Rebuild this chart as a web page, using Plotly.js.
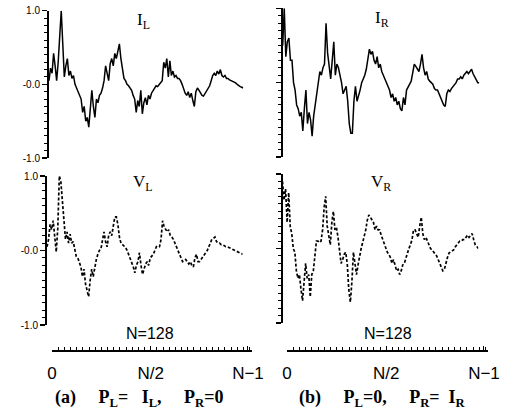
<!DOCTYPE html>
<html>
<head>
<meta charset="utf-8">
<script src="https://cdn.plot.ly/plotly-3.0.1.min.js"></script>
<style>html,body{margin:0;padding:0;background:#fff;}#plot{width:519px;height:412px;}</style>
</head>
<body>
<div id="plot"></div>
<script>
// Sample index n = 0 .. N-1 (N = 128)
const N = 128;
const sampleIndex = Array.from({length: N}, (_, i) => i);

// I_L : current, left excitation (case a)
const iL = [0.05,0.22,0.15,0.42,0.25,0.05,0.3,0.6,1.0,0.55,
0.1,0.25,0.35,0.12,0.18,0.08,0.12,0.0,-0.05,-0.12,
-0.15,-0.2,-0.38,-0.3,-0.5,-0.45,-0.58,-0.35,-0.08,-0.3,
-0.45,-0.2,-0.25,-0.15,-0.12,-0.05,0.05,0.25,0.15,0.05,
0.28,0.35,0.25,0.42,0.35,0.48,0.55,0.35,0.2,0.08,
0.05,0.0,-0.02,-0.05,-0.08,-0.15,-0.2,-0.38,-0.22,-0.3,
-0.08,-0.4,-0.25,-0.18,-0.28,-0.15,-0.2,-0.12,-0.08,-0.05,
-0.02,-0.03,0.0,0.02,0.05,0.3,0.22,0.35,0.1,0.32,
0.12,0.18,0.1,0.12,0.08,0.08,0.05,0.0,-0.08,-0.12,
-0.15,-0.1,-0.18,-0.12,-0.22,-0.3,-0.1,-0.05,-0.08,-0.12,
-0.15,-0.16,-0.12,-0.1,-0.05,-0.02,0.05,0.12,0.15,0.12,
0.18,0.14,0.2,0.12,0.1,0.12,0.08,0.08,0.06,0.05,
0.05,0.03,0.02,0.0,-0.02,-0.03,-0.04,-0.05];

// I_R : current, right excitation (case b)
const iR = [0.5,1.0,0.35,0.55,0.6,0.3,0.3,0.0,-0.1,-0.3,
-0.35,-0.45,-0.4,-0.65,-0.35,-0.1,-0.55,-0.4,-0.5,-0.72,
-0.45,-0.3,-0.1,0.05,0.15,0.1,0.2,0.25,0.8,0.4,
0.2,0.05,0.3,0.55,0.1,0.25,0.2,0.12,0.0,-0.15,
-0.1,-0.05,-0.25,-0.55,-0.68,-0.68,-0.25,-0.05,-0.25,-0.18,
-0.1,0.0,0.05,0.1,0.18,0.32,0.45,0.38,0.42,0.3,
0.25,0.35,0.2,0.25,0.15,0.1,0.05,0.0,-0.05,-0.1,
-0.2,-0.15,-0.25,-0.2,-0.3,-0.25,-0.35,-0.38,-0.2,-0.3,
-0.1,-0.05,-0.02,0.02,0.15,0.25,0.22,0.18,0.15,0.25,
0.38,0.2,0.1,0.15,0.05,0.02,0.0,-0.02,-0.08,-0.1,
-0.1,-0.15,-0.18,-0.25,-0.3,-0.32,-0.15,-0.1,-0.12,-0.08,
-0.05,-0.03,0.0,0.05,0.05,0.08,0.05,0.1,0.12,0.15,
0.12,0.15,0.18,0.12,0.08,0.02,0.0,0.0];

// V_L : voltage, left excitation (case a)
const vL = [0.05,0.15,0.35,0.28,0.4,0.2,-0.02,0.3,1.0,0.92,
0.65,0.35,0.15,0.25,0.1,0.22,0.1,0.12,0.0,-0.08,
-0.1,-0.15,-0.22,-0.35,-0.25,-0.45,-0.55,-0.62,-0.4,-0.25,
-0.35,-0.2,-0.12,-0.05,0.0,0.02,0.15,0.25,0.12,0.05,
0.2,0.25,0.2,0.35,0.45,0.45,0.35,0.18,0.1,0.08,
0.06,0.04,0.0,-0.05,-0.1,-0.15,-0.22,-0.3,-0.2,-0.15,
-0.03,-0.2,-0.32,-0.25,-0.18,-0.15,-0.2,-0.1,-0.08,-0.05,
0.0,0.05,0.04,0.05,0.15,0.4,0.32,0.28,0.25,0.28,
0.2,0.18,0.15,0.1,0.05,0.02,-0.05,-0.1,-0.15,-0.14,
-0.12,-0.15,-0.18,-0.15,-0.2,-0.22,-0.1,-0.05,-0.15,-0.15,
-0.12,-0.1,-0.06,-0.04,0.0,0.05,0.1,0.15,0.16,0.18,
0.12,0.1,0.1,0.08,0.08,0.06,0.05,0.05,0.04,0.03,
0.02,0.01,0.0,-0.01,-0.02,-0.03,-0.04,-0.05];

// V_R : voltage, right excitation (case b)
const vR = [0.9,0.65,0.8,0.35,0.75,0.3,0.2,0.0,-0.05,-0.3,
-0.4,-0.35,-0.55,-0.7,-0.45,-0.2,-0.4,-0.35,-0.65,-0.35,
-0.3,-0.05,0.1,0.1,0.08,0.1,0.25,0.55,0.7,0.3,
0.15,0.05,0.35,0.5,0.25,0.28,0.15,-0.05,-0.2,-0.15,
-0.08,-0.05,-0.2,-0.55,-0.72,-0.45,-0.05,-0.2,-0.35,-0.22,
-0.08,0.0,0.08,0.15,0.25,0.38,0.45,0.42,0.38,0.35,
0.25,0.3,0.25,0.25,0.18,0.12,0.08,0.0,-0.05,-0.08,
-0.12,-0.2,-0.15,-0.22,-0.3,-0.28,-0.35,-0.3,-0.22,-0.2,
-0.12,-0.05,0.0,0.05,0.12,0.25,0.25,0.2,0.15,0.3,
0.42,0.2,0.12,0.15,0.1,0.03,0.0,-0.02,-0.05,-0.08,
-0.1,-0.15,-0.2,-0.25,-0.3,-0.28,-0.18,-0.12,-0.06,-0.05,
-0.03,-0.02,0.02,0.05,0.08,0.1,0.1,0.12,0.12,0.15,
0.18,0.15,0.18,0.2,0.12,0.05,0.03,0.0];

// Tick labels
const yTickVals = [-1, 0, 1];
const yTickText = ['-1.0', '-0.0', '1.0'];
const xTickVals = [0, 64, 127];
const xTickText = ['0', 'N/2', 'N\u22121'];

// ---- layout helpers (pixel -> paper) ----
const W = 519, H = 412;
const dx = (a, b) => [a / W, b / W];
const dy = (top, bottom) => [1 - bottom / H, 1 - top / H];

function panelY(domain, anchor, labels) {
  return {
    domain: domain, anchor: anchor, range: [-1, 1],
    showline: true, linecolor: '#000', linewidth: 2,
    ticks: 'outside', ticklen: 5, tickwidth: 1.3, tickcolor: '#000',
    tickmode: 'array', tickvals: yTickVals, ticktext: yTickText,
    showticklabels: labels,
    tickfont: {family: 'Liberation Sans, Arial', size: 10, color: '#000'},
    minor: {tickmode: 'linear', tick0: -1, dtick: 0.1, ticks: 'outside', ticklen: 3, tickwidth: 1, tickcolor: '#000', showgrid: false},
    showgrid: false, zeroline: false, fixedrange: true
  };
}
function panelX(domain, anchor) {
  return {domain: domain, anchor: anchor, range: [0, N - 1], visible: false, fixedrange: true};
}
function bottomX(domain, anchor, maxv) {
  return {
    domain: domain, anchor: anchor, range: [0, maxv],
    showline: true, linecolor: '#000', linewidth: 2,
    ticks: 'inside', ticklen: 4, tickwidth: 1, tickcolor: '#000',
    tickmode: 'array', tickvals: xTickVals, ticktext: xTickText,
    ticklabelstandoff: 7,
    tickfont: {family: 'Liberation Sans, Arial', size: 17, color: '#000'},
    minor: {tickmode: 'linear', tick0: 0, dtick: 4, ticks: 'inside', ticklen: 3, tickwidth: 1, tickcolor: '#000', showgrid: false},
    showgrid: false, zeroline: false, fixedrange: true
  };
}

const solid = {color: '#000', width: 1.5};
const dotted = {color: '#000', width: 1.7, dash: '3px,2px'};

const traces = [
  {x: sampleIndex, y: iL, xaxis: 'x', yaxis: 'y', mode: 'lines', line: solid, hoverinfo: 'skip'},
  {x: sampleIndex, y: iR, xaxis: 'x2', yaxis: 'y2', mode: 'lines', line: solid, hoverinfo: 'skip'},
  {x: sampleIndex, y: vL, xaxis: 'x3', yaxis: 'y3', mode: 'lines', line: dotted, hoverinfo: 'skip'},
  {x: sampleIndex, y: vR, xaxis: 'x4', yaxis: 'y4', mode: 'lines', line: dotted, hoverinfo: 'skip'},
  // empty traces so the shared sample-index axes are drawn
  {x: [], y: [], xaxis: 'x5', yaxis: 'y5', mode: 'lines', hoverinfo: 'skip'},
  {x: [], y: [], xaxis: 'x6', yaxis: 'y6', mode: 'lines', hoverinfo: 'skip'}
];

const serif = {family: 'Liberation Serif, Times New Roman, serif', size: 17, color: '#000'};
const sans = {family: 'Liberation Sans, Arial', size: 16, color: '#000'};
const capFont = {family: 'Liberation Serif, Times New Roman, serif', size: 18, color: '#000', weight: 'bold'};

function ann(text, px, py, font) {
  return {text: text, x: px / W, y: 1 - py / H, xref: 'paper', yref: 'paper',
          xanchor: 'center', yanchor: 'middle', showarrow: false, font: font};
}

const sp = '&nbsp;&nbsp;&nbsp;&nbsp;&nbsp;';
const layout = {
  width: W, height: H,
  margin: {l: 0, r: 0, t: 0, b: 0},
  paper_bgcolor: '#fff', plot_bgcolor: 'rgba(0,0,0,0)',
  showlegend: false,
  xaxis: panelX(dx(49, 243.3), 'y'),
  yaxis: panelY(dy(10.7, 158), 'x', true),
  xaxis2: panelX(dx(282.7, 479.3), 'y2'),
  yaxis2: panelY(dy(8.3, 157), 'x2', false),
  xaxis3: panelX(dx(47, 242.7), 'y3'),
  yaxis3: panelY(dy(176, 325), 'x3', true),
  xaxis4: panelX(dx(282.5, 478.3), 'y4'),
  yaxis4: panelY(dy(174, 323), 'x4', false),
  xaxis5: bottomX(dx(52, 252), 'y5', 129.6),
  yaxis5: {domain: dy(344, 350), anchor: 'x5', visible: false, range: [0, 1], fixedrange: true},
  xaxis6: bottomX(dx(287, 488), 'y6', 129.6),
  yaxis6: {domain: dy(344, 350), anchor: 'x6', visible: false, range: [0, 1], fixedrange: true},
  annotations: [
    ann('I<sub>L</sub>', 143, 21, serif),
    ann('I<sub>R</sub>', 382, 19, serif),
    ann('V<sub>L</sub>', 143, 183, serif),
    ann('V<sub>R</sub>', 381, 183, serif),
    ann('N=128', 150, 333, sans),
    ann('N=128', 388, 333, sans),
    ann('(a)' + sp + 'P<sub>L</sub>=&nbsp;&nbsp;&nbsp;I<sub>L</sub>,' + sp + 'P<sub>R</sub>=0', 139, 398, capFont),
    ann('(b)' + sp + 'P<sub>L</sub>=0,' + sp + 'P<sub>R</sub>=&nbsp;&nbsp;I<sub>R</sub>', 382, 398, capFont)
  ]
};

Plotly.newPlot('plot', traces, layout, {staticPlot: true, displayModeBar: false});
</script>
</body>
</html>
